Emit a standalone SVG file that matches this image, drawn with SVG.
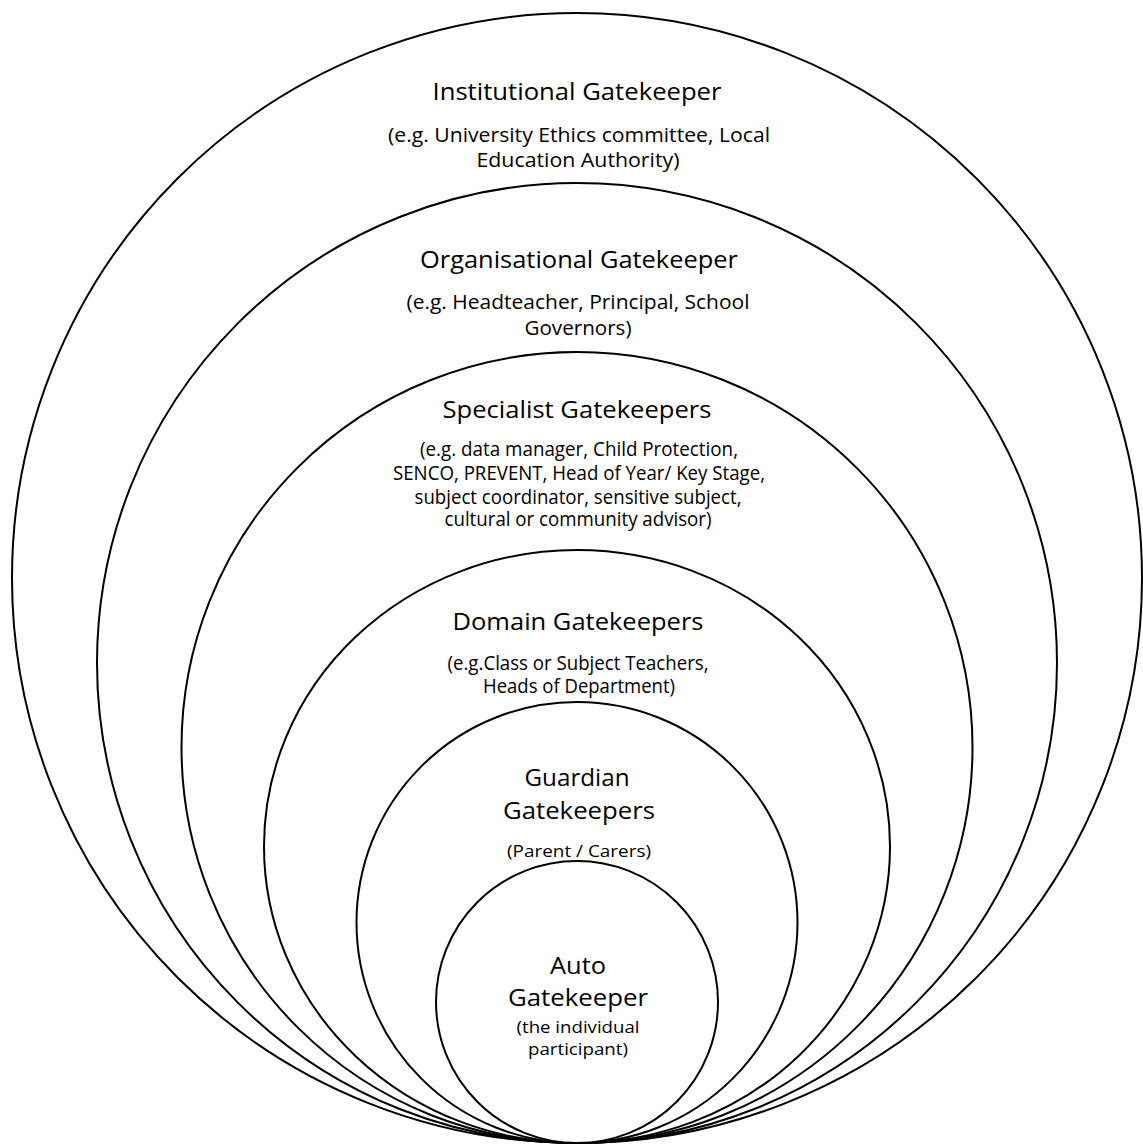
<svg xmlns="http://www.w3.org/2000/svg" width="1143" height="1147" viewBox="0 0 1143 1147">
<style>
.ring{fill:#fff;stroke:#000;stroke-width:2}
text{font-family:"Open Sans","Noto Sans","Liberation Sans",sans-serif;fill:#000;text-anchor:middle}
.t{font-size:24px}
.s{font-size:20px}
.x{font-size:17px}
</style>
<rect width="1143" height="1147" fill="#fff"/>
<g id="institutional">
<circle class="ring" cx="577" cy="578" r="565"/>
<text class="t" x="577" y="100" textLength="289" lengthAdjust="spacingAndGlyphs">Institutional Gatekeeper</text>
<text class="s" x="579" y="142" textLength="382" lengthAdjust="spacingAndGlyphs">(e.g. University Ethics committee, Local</text>
<text class="s" x="578" y="167" textLength="203" lengthAdjust="spacingAndGlyphs">Education Authority)</text>
</g>
<g id="organisational">
<circle class="ring" cx="577" cy="663" r="480"/>
<text class="t" x="579" y="268" textLength="318" lengthAdjust="spacingAndGlyphs">Organisational Gatekeeper</text>
<text class="s" x="578" y="309" textLength="343" lengthAdjust="spacingAndGlyphs">(e.g. Headteacher, Principal, School</text>
<text class="s" x="578" y="335" textLength="107" lengthAdjust="spacingAndGlyphs">Governors)</text>
</g>
<g id="specialist">
<circle class="ring" cx="577" cy="747.5" r="395.5"/>
<text class="t" x="577" y="418" textLength="269" lengthAdjust="spacingAndGlyphs">Specialist Gatekeepers</text>
<text class="s" x="579" y="456" textLength="318" lengthAdjust="spacingAndGlyphs">(e.g. data manager, Child Protection,</text>
<text class="s" x="579" y="480" textLength="372" lengthAdjust="spacingAndGlyphs">SENCO, PREVENT, Head of Year/ Key Stage,</text>
<text class="s" x="578" y="504" textLength="327" lengthAdjust="spacingAndGlyphs">subject coordinator, sensitive subject,</text>
<text class="s" x="578" y="526" textLength="267" lengthAdjust="spacingAndGlyphs">cultural or community advisor)</text>
</g>
<g id="domain">
<ellipse class="ring" cx="577" cy="846.5" rx="313" ry="296.5"/>
<text class="t" x="578" y="630" textLength="251" lengthAdjust="spacingAndGlyphs">Domain Gatekeepers</text>
<text class="s" x="578" y="670" textLength="261" lengthAdjust="spacingAndGlyphs">(e.g.Class or Subject Teachers,</text>
<text class="s" x="579" y="693" textLength="192" lengthAdjust="spacingAndGlyphs">Heads of Department)</text>
</g>
<g id="guardian">
<circle class="ring" cx="577" cy="922.5" r="220.5"/>
<text class="t" x="577" y="786" textLength="105" lengthAdjust="spacingAndGlyphs">Guardian</text>
<text class="t" x="579" y="819" textLength="152" lengthAdjust="spacingAndGlyphs">Gatekeepers</text>
<text class="x" x="579" y="857" textLength="144" lengthAdjust="spacingAndGlyphs">(Parent / Carers)</text>
</g>
<g id="auto">
<circle class="ring" cx="577" cy="1002" r="141"/>
<text class="t" x="578" y="974" textLength="56" lengthAdjust="spacingAndGlyphs">Auto</text>
<text class="t" x="578" y="1006" textLength="140" lengthAdjust="spacingAndGlyphs">Gatekeeper</text>
<text class="x" x="578" y="1033" textLength="123" lengthAdjust="spacingAndGlyphs">(the individual</text>
<text class="x" x="578" y="1055" textLength="100" lengthAdjust="spacingAndGlyphs">participant)</text>
</g>
<g id="connectors"/>
</svg>
